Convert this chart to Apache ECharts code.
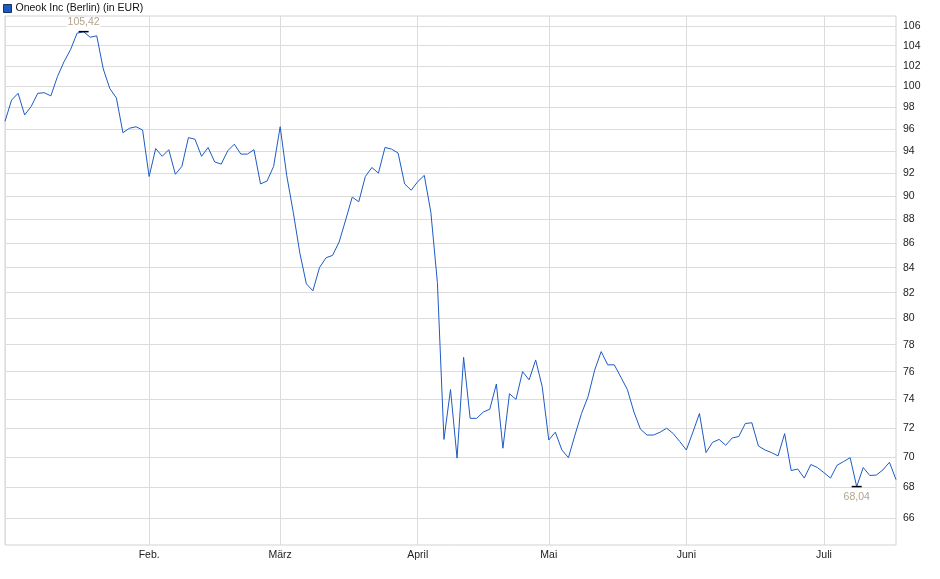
<!DOCTYPE html>
<html>
  <head>
    <meta charset="utf-8" />
    <title>Oneok Inc (Berlin)</title>
    <script src="https://cdn.jsdelivr.net/npm/echarts@6.0.0/dist/echarts.min.js"></script>
    <style>
      body {
        margin: 0;
        padding: 0;
        background: #fff;
      }
      #main {
        width: 940px;
        height: 579px;
      }
    </style>
  </head>
  <body>
    <div id="main"></div>
    <script type="text/javascript">
      // Handelstage 02.01.2025 - 16.07.2025 (Börse Berlin, ohne Feiertage)
      var startDate = "2025-01-02";
      var endDate = "2025-07-16";
      var holidays = ["2025-04-18", "2025-04-21", "2025-05-01"];

      var monthLabels = ["Jan.", "Feb.", "März", "April", "Mai", "Juni", "Juli"];
      var yTicks = [66, 68, 70, 72, 74, 76, 78, 80, 82, 84, 86, 88, 90, 92, 94, 96, 98, 100, 102, 104, 106];

      // Schlusskurse in EUR, einer pro Handelstag
      var prices = [
        96.7, 98.7, 99.35, 97.3, 98.1, 99.35, 99.4, 99.1, 100.95, 102.4,
        103.6, 105.26, 105.42, 104.85, 105.0, 101.7, 99.8, 98.9, 95.65, 96.06,
        96.2, 95.9, 91.7, 94.2, 93.5, 94.1, 91.9, 92.6, 95.2, 95.05,
        93.5, 94.3, 93.0, 92.8, 94.0, 94.6, 93.7, 93.7, 94.1, 91.05,
        91.3, 92.6, 96.2, 91.8, 88.6, 85.2, 82.7, 82.15, 84.0, 84.8,
        85.0, 86.1, 87.95, 89.9, 89.5, 91.7, 92.5, 92.0, 94.3, 94.15,
        93.8, 91.05, 90.5, 91.25, 91.8, 88.6, 82.8, 71.2, 74.7, 69.93,
        77.05, 72.66, 72.66, 73.1, 73.3, 75.1, 70.6, 74.4, 74.0, 76.0,
        75.4, 76.86, 74.9, 71.16, 71.7, 70.48, 69.96, 71.5, 73.0, 74.2,
        76.1, 77.48, 76.5, 76.5, 75.6, 74.7, 73.1, 71.9, 71.5, 71.5,
        71.7, 71.97, 71.6, 71.05, 70.48, 71.7, 73.0, 70.3, 71.0, 71.2,
        70.8, 71.3, 71.4, 72.3, 72.35, 70.75, 70.48, 70.3, 70.08, 71.6,
        69.1, 69.2, 68.6, 69.5, 69.3, 68.96, 68.6, 69.45, 69.7, 69.96,
        68.04, 69.3, 68.77, 68.8, 69.14, 69.65, 68.5
      ];

      function tradingDays(from, to, skip) {
        var days = [];
        var d = new Date(from + "T00:00:00Z");
        var end = new Date(to + "T00:00:00Z");
        while (d <= end) {
          var s = d.toISOString().slice(0, 10);
          var wd = d.getUTCDay();
          if (wd !== 0 && wd !== 6 && skip.indexOf(s) < 0) {
            days.push(s);
          }
          d.setUTCDate(d.getUTCDate() + 1);
        }
        return days;
      }

      var dates = tradingDays(startDate, endDate, holidays);

      // erster Handelstag eines Monats -> Gitterlinie + Beschriftung
      function isMonthStart(index) {
        if (index === 0) return true;
        return dates[index].slice(5, 7) !== dates[index - 1].slice(5, 7);
      }

      var fontFamily = "'Liberation Sans', Arial, sans-serif";
      var lineColor = "#1c5bc4";

      var myChart = echarts.init(document.getElementById("main"));

      var option = {
        animation: false,
        textStyle: { fontFamily: fontFamily },
        legend: {
          left: 3,
          top: 3,
          padding: 0,
          itemWidth: 8,
          itemHeight: 8,
          itemGap: 10,
          icon: "rect",
          data: ["Oneok Inc (Berlin) (in EUR)"],
          itemStyle: {
            color: lineColor,
            borderColor: "#17325f",
            borderWidth: 1,
          },
          textStyle: {
            fontSize: 10.5,
            color: "#111",
            fontFamily: fontFamily,
            padding: [0, 0, 0, -1],
          },
        },
        grid: {
          left: 5,
          right: 44,
          top: 16,
          bottom: 34,
          show: true,
          borderColor: "#d2d2d2",
          borderWidth: 1,
          containLabel: false,
        },
        xAxis: {
          type: "category",
          data: dates,
          boundaryGap: false,
          axisLine: { show: false },
          axisTick: { show: false },
          axisLabel: {
            interval: function (index) {
              return index > 0 && isMonthStart(index);
            },
            formatter: function (value) {
              return monthLabels[parseInt(value.slice(5, 7), 10) - 1];
            },
            fontSize: 10.5,
            color: "#222",
            margin: 5,
          },
          splitLine: {
            show: true,
            interval: function (index) {
              return isMonthStart(index);
            },
            lineStyle: { color: "#dcdcdc", width: 1 },
          },
        },
        yAxis: {
          type: "log",
          position: "right",
          min: 64.32,
          max: 107.02,
          axisLine: { show: false },
          axisTick: { show: false, customValues: yTicks },
          axisLabel: {
            customValues: yTicks,
            fontSize: 10.5,
            color: "#222",
            margin: 7,
            formatter: function (v) {
              return String(Math.round(v));
            },
          },
          splitLine: {
            show: true,
            lineStyle: { color: "#dcdcdc", width: 1 },
          },
        },
        series: [
          {
            name: "Oneok Inc (Berlin) (in EUR)",
            type: "line",
            data: prices,
            symbol: "none",
            lineStyle: { color: lineColor, width: 1 },
            itemStyle: { color: lineColor },
            markPoint: {
              symbol: "rect",
              symbolSize: [10, 1.5],
              itemStyle: { color: "#000" },
              label: {
                fontSize: 10.5,
                color: "#b3a58f",
                backgroundColor: "#fff",
                padding: [0, 1],
                formatter: function (p) {
                  return p.value.toFixed(2).replace(".", ",");
                },
              },
              data: [
                { type: "max", label: { position: "top", distance: 3 } },
                { type: "min", label: { position: "bottom", distance: 4 } },
              ],
            },
          },
        ],
      };

      myChart.setOption(option);
    </script>
  </body>
</html>
